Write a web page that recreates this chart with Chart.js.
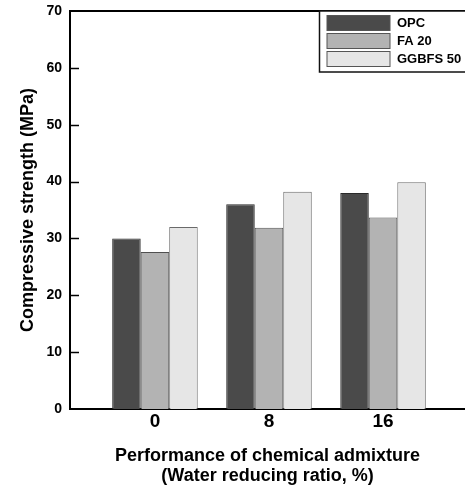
<!DOCTYPE html>
<html>
<head>
<meta charset="utf-8">
<script src="https://cdn.jsdelivr.net/npm/chart.js@4"></script>
<style>
  html, body { margin: 0; padding: 0; background: #fff; overflow: hidden; }
  #wrap { width: 465px; height: 485px; position: relative; }
</style>
</head>
<body>
<div id="wrap"><canvas id="barChart"></canvas></div>
<script>
// water reducing ratio (%)
var ratios = [0, 8, 16];
var seriesNames = ['OPC', 'FA 20', 'GGBFS 50'];
var opcValues = [30.0, 36.0, 38.0];
var fa20Values = [27.6, 31.9, 33.7];
var ggbfsValues = [32.0, 38.2, 39.9];
var yTicks = [0, 10, 20, 30, 40, 50, 60, 70];

var fontFamily = "'Liberation Sans', Arial, sans-serif";

function toPoints(values) {
    return ratios.map(function (r, i) { return { x: r, y: values[i] }; });
}

// axis ticks pointing into the plot, top border line and boxed legend
var frameAndLegend = {
    id: 'frameAndLegend',
    afterDraw: function (chart) {
        var ctx = chart.ctx;
        var area = chart.chartArea;
        var y = chart.scales.y;
        ctx.save();
        ctx.strokeStyle = '#000';
        ctx.lineWidth = 1.5;
        yTicks.forEach(function (v) {
            if (v === 0 || v === 70) return;
            var py = Math.round(y.getPixelForValue(v)) + 0.5;
            ctx.beginPath();
            ctx.moveTo(area.left, py);
            ctx.lineTo(area.left + 9, py);
            ctx.stroke();
        });
        ctx.lineWidth = 2;
        ctx.beginPath();
        ctx.moveTo(area.left - 1, area.top);
        ctx.lineTo(area.right + 5, area.top);
        ctx.stroke();

        // legend
        var bx = 319.5, by = area.top, bw = 160, bh = 61;
        ctx.fillStyle = '#fff';
        ctx.fillRect(bx, by, bw, bh);
        ctx.lineWidth = 1.5;
        ctx.strokeStyle = '#111';
        ctx.strokeRect(bx, by, bw, bh);
        ctx.font = 'bold 13px ' + fontFamily;
        ctx.textBaseline = 'middle';
        chart.data.datasets.forEach(function (ds, i) {
            var sy = area.top + 4.5 + i * 18;
            ctx.fillStyle = ds.backgroundColor;
            ctx.fillRect(327, sy, 63, 15);
            ctx.lineWidth = 1;
            ctx.strokeStyle = '#555';
            ctx.strokeRect(327, sy, 63, 15);
            ctx.fillStyle = '#000';
            ctx.fillText(ds.label, 397, sy + 8);
        });
        ctx.restore();
    }
};

var barChartCtx = document.getElementById('barChart').getContext('2d');

var chartData = {
    datasets: [{
        label: seriesNames[0],
        data: toPoints(opcValues),
        backgroundColor: '#4a4a4a',
        borderColor: '#2a2a2a',
        borderWidth: 1
    },
    {
        label: seriesNames[1],
        data: toPoints(fa20Values),
        backgroundColor: '#b3b3b3',
        borderColor: '#505050',
        borderWidth: 1
    },
    {
        label: seriesNames[2],
        data: toPoints(ggbfsValues),
        backgroundColor: '#e6e6e6',
        borderColor: '#6a6a6a',
        borderWidth: 1
    }]
};

var barChart = new Chart(barChartCtx, {
    type: 'bar',
    data: chartData,
    plugins: [frameAndLegend],
    options: {
        responsive: true,
        maintainAspectRatio: false,
        animation: false,
        categoryPercentage: 0.75,
        barPercentage: 1,
        layout: { padding: { top: 11, right: 0, bottom: 0, left: 0 } },
        plugins: {
            legend: { display: false },
            tooltip: { enabled: false }
        },
        scales: {
            x: {
                type: 'linear',
                min: -5.96,
                max: 21.75,
                offset: false,
                grid: { display: false, drawTicks: false },
                border: { display: true, color: '#000', width: 2 },
                afterBuildTicks: function (scale) {
                    scale.ticks = ratios.map(function (v) { return { value: v }; });
                },
                afterFit: function (scale) { scale.height = 76; },
                ticks: {
                    color: '#000',
                    padding: 1,
                    maxRotation: 0,
                    font: { family: fontFamily, size: 19, weight: 'bold' }
                },
                title: {
                    display: true,
                    text: ['Performance of chemical admixture', '(Water reducing ratio, %)'],
                    color: '#000',
                    padding: { top: 0, bottom: -1 },
                    font: { family: fontFamily, size: 18, weight: 'bold', lineHeight: 1.12 }
                }
            },
            y: {
                min: 0,
                max: 70,
                grid: { display: false },
                border: { display: true, color: '#000', width: 2 },
                afterBuildTicks: function (scale) {
                    scale.ticks = yTicks.map(function (v) { return { value: v }; });
                },
                afterFit: function (scale) { scale.width = 70; },
                ticks: {
                    color: '#000',
                    padding: 0,
                    font: { family: fontFamily, size: 14, weight: 'bold' }
                },
                title: {
                    display: true,
                    text: 'Compressive strength (MPa)',
                    color: '#000',
                    padding: { top: 17, bottom: 0 },
                    font: { family: fontFamily, size: 18, weight: 'bold' }
                }
            }
        }
    }
});
</script>
</body>
</html>
